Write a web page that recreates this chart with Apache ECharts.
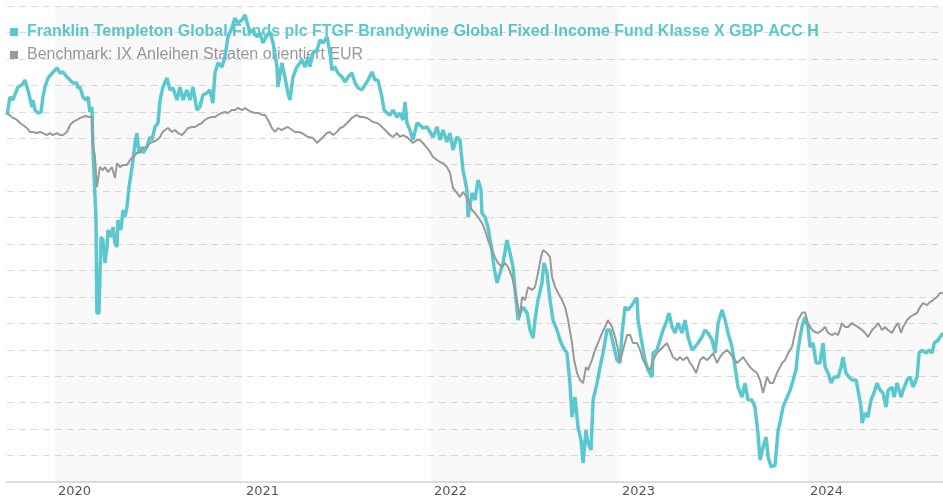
<!DOCTYPE html>
<html>
<head>
<meta charset="utf-8">
<script src="https://cdn.jsdelivr.net/npm/echarts@6/dist/echarts.min.js"></script>
<style>
  html, body { margin: 0; padding: 0; background: #fff; }
  #chart { width: 943px; height: 500px; }
</style>
</head>
<body>
<div id="chart"></div>
<script>
const fundName = 'Franklin Templeton Global Funds plc FTGF Brandywine Global Fixed Income Fund Klasse X GBP ACC H';
const benchName = 'Benchmark: IX Anleihen Staaten orientiert EUR';
const yearTicks = [2020, 2021, 2022, 2023, 2024];
const shadedYears = [[2020, 2021], [2022, 2023], [2024, 2024.723]];

// [decimal year, performance]
const fund = [
  [2019.745,1.76],[2019.761,3.12],[2019.776,2.89],[2019.803,3.87],[2019.824,4.03],[2019.840,4.40],[2019.856,3.65],
  [2019.878,2.36],[2019.883,2.89],[2019.894,2.13],[2019.910,1.91],[2019.926,1.98],[2019.936,3.12],[2019.947,3.87],
  [2019.963,4.55],[2019.973,4.40],[2020.000,5.16],[2020.011,5.31],[2020.027,4.93],[2020.043,5.01],[2020.064,4.63],
  [2020.080,4.40],[2020.096,4.18],[2020.117,4.18],[2020.122,3.80],[2020.133,3.87],[2020.149,3.12],[2020.165,2.89],
  [2020.176,3.12],[2020.186,1.98],[2020.197,2.36],[2020.202,-0.89],[2020.218,-5.96],[2020.223,-13.22],[2020.234,-13.22],
  [2020.245,-7.47],[2020.255,-7.70],[2020.266,-9.44],[2020.277,-8.23],[2020.282,-6.94],[2020.298,-7.47],[2020.309,-6.72],
  [2020.319,-7.93],[2020.330,-8.23],[2020.335,-6.19],[2020.351,-6.94],[2020.362,-5.43],[2020.372,-5.96],[2020.383,-5.20],
  [2020.394,-3.69],[2020.410,-2.18],[2020.426,-0.36],[2020.436,0.39],[2020.447,-1.12],[2020.463,-0.67],[2020.468,-1.12],
  [2020.489,-0.67],[2020.505,0.09],[2020.516,-0.14],[2020.532,0.85],[2020.548,1.15],[2020.559,2.89],[2020.574,3.87],
  [2020.596,4.55],[2020.612,3.65],[2020.628,3.80],[2020.649,2.89],[2020.665,3.87],[2020.681,2.89],[2020.702,3.65],
  [2020.718,2.89],[2020.734,3.87],[2020.755,2.13],[2020.771,2.36],[2020.787,3.27],[2020.809,3.42],[2020.824,3.65],
  [2020.840,2.66],[2020.851,4.93],[2020.867,5.69],[2020.888,5.39],[2020.904,6.14],[2020.920,7.66],[2020.941,8.34],
  [2020.957,9.09],[2020.973,8.71],[2020.995,8.94],[2021.011,9.32],[2021.021,9.47],[2021.037,7.96],[2021.053,8.19],
  [2021.074,7.66],[2021.090,7.96],[2021.106,7.20],[2021.128,7.81],[2021.144,8.03],[2021.160,7.20],[2021.181,5.39],
  [2021.186,3.87],[2021.207,5.69],[2021.223,4.63],[2021.239,3.42],[2021.250,2.89],[2021.266,4.63],[2021.287,5.39],
  [2021.314,5.92],[2021.330,5.39],[2021.346,6.14],[2021.356,5.39],[2021.372,6.45],[2021.394,6.67],[2021.410,7.43],
  [2021.426,7.20],[2021.447,7.66],[2021.463,6.45],[2021.473,5.16],[2021.489,5.39],[2021.505,4.93],[2021.527,4.63],
  [2021.543,4.25],[2021.559,4.63],[2021.580,4.93],[2021.596,4.18],[2021.612,3.80],[2021.633,3.65],[2021.649,4.03],
  [2021.665,4.40],[2021.686,5.01],[2021.702,4.40],[2021.718,4.40],[2021.739,3.12],[2021.750,2.13],[2021.766,1.91],
  [2021.782,1.76],[2021.798,2.13],[2021.819,1.60],[2021.835,1.91],[2021.851,1.38],[2021.862,2.74],[2021.872,1.15],
  [2021.888,0.62],[2021.904,-0.14],[2021.926,1.15],[2021.941,1.00],[2021.957,0.77],[2021.979,0.85],[2021.995,0.47],
  [2022.011,0.09],[2022.032,0.85],[2022.048,-0.14],[2022.064,0.62],[2022.085,-0.29],[2022.101,0.39],[2022.117,-0.89],
  [2022.138,0.09],[2022.154,-0.14],[2022.170,-2.41],[2022.181,-3.16],[2022.191,-3.92],[2022.197,-5.96],[2022.218,-4.14],
  [2022.234,-4.67],[2022.250,-3.16],[2022.266,-3.92],[2022.271,-5.66],[2022.287,-5.96],[2022.303,-6.72],[2022.324,-8.46],
  [2022.335,-9.74],[2022.351,-10.95],[2022.367,-10.20],[2022.383,-9.44],[2022.404,-7.70],[2022.420,-8.68],[2022.436,-9.74],
  [2022.447,-11.48],[2022.463,-13.75],[2022.473,-13.22],[2022.489,-12.77],[2022.511,-13.22],[2022.527,-14.51],[2022.543,-15.11],
  [2022.553,-13.75],[2022.569,-12.24],[2022.590,-10.95],[2022.601,-9.44],[2022.617,-10.20],[2022.633,-12.24],[2022.649,-13.75],
  [2022.670,-14.51],[2022.686,-15.26],[2022.702,-15.79],[2022.723,-16.25],[2022.739,-18.52],[2022.750,-21.09],[2022.766,-19.58],
  [2022.782,-21.84],[2022.798,-22.83],[2022.809,-24.57],[2022.824,-22.07],[2022.835,-23.05],[2022.851,-23.58],[2022.862,-19.80],
  [2022.883,-18.52],[2022.899,-17.31],[2022.915,-16.25],[2022.936,-14.51],[2022.952,-14.51],[2022.968,-15.49],[2022.989,-16.78],
  [2023.005,-17.00],[2023.016,-14.73],[2023.032,-12.77],[2023.048,-12.99],[2023.069,-12.62],[2023.085,-12.24],[2023.096,-12.09],
  [2023.101,-13.75],[2023.122,-15.49],[2023.138,-16.78],[2023.154,-17.53],[2023.176,-18.06],[2023.181,-16.25],[2023.202,-16.02],
  [2023.218,-15.26],[2023.234,-14.51],[2023.255,-13.75],[2023.266,-13.22],[2023.282,-14.28],[2023.298,-14.73],[2023.314,-13.98],
  [2023.335,-14.73],[2023.351,-13.75],[2023.367,-15.04],[2023.388,-16.02],[2023.404,-15.79],[2023.420,-15.49],[2023.441,-15.04],
  [2023.457,-14.51],[2023.473,-14.73],[2023.495,-15.26],[2023.511,-16.25],[2023.527,-13.98],[2023.548,-12.99],[2023.564,-13.75],
  [2023.580,-14.73],[2023.601,-15.79],[2023.617,-17.31],[2023.633,-18.82],[2023.654,-19.58],[2023.670,-18.52],[2023.686,-19.80],
  [2023.707,-19.80],[2023.723,-20.33],[2023.739,-22.30],[2023.750,-24.34],[2023.766,-23.36],[2023.782,-22.60],[2023.793,-24.11],
  [2023.809,-24.87],[2023.819,-24.87],[2023.830,-24.72],[2023.846,-22.07],[2023.856,-21.54],[2023.872,-20.33],[2023.894,-19.58],
  [2023.910,-19.05],[2023.926,-18.29],[2023.941,-17.53],[2023.952,-16.02],[2023.963,-15.04],[2023.973,-14.28],[2023.989,-13.52],
  [2024.005,-14.28],[2024.016,-15.79],[2024.032,-15.49],[2024.048,-17.00],[2024.069,-17.00],[2024.085,-15.49],[2024.096,-17.31],
  [2024.112,-17.76],[2024.128,-18.52],[2024.144,-18.06],[2024.165,-18.06],[2024.181,-17.31],[2024.191,-16.55],[2024.207,-17.76],
  [2024.223,-18.06],[2024.239,-18.29],[2024.261,-18.29],[2024.271,-19.05],[2024.287,-20.33],[2024.293,-21.54],[2024.309,-20.79],
  [2024.324,-21.09],[2024.340,-19.80],[2024.356,-19.27],[2024.372,-18.52],[2024.388,-19.05],[2024.404,-19.27],[2024.420,-20.33],
  [2024.431,-19.05],[2024.452,-18.82],[2024.463,-19.58],[2024.479,-18.52],[2024.500,-19.58],[2024.511,-19.05],[2024.532,-18.29],
  [2024.548,-18.06],[2024.564,-18.82],[2024.585,-18.06],[2024.596,-16.25],[2024.612,-16.02],[2024.633,-16.25],[2024.649,-16.02],
  [2024.665,-16.25],[2024.676,-15.49],[2024.697,-15.26],[2024.707,-15.04],[2024.723,-14.73]
];

const bench = [
  [2019.745,1.91],[2019.771,1.60],[2019.798,1.38],[2019.814,1.15],[2019.830,1.00],[2019.851,0.77],[2019.867,0.47],
  [2019.883,0.47],[2019.904,0.39],[2019.920,0.47],[2019.936,0.39],[2019.957,0.24],[2019.973,0.39],[2019.989,0.24],
  [2020.011,0.39],[2020.027,0.24],[2020.043,0.24],[2020.064,0.47],[2020.080,1.00],[2020.096,1.23],[2020.117,1.38],
  [2020.133,1.53],[2020.149,1.60],[2020.165,1.68],[2020.181,1.60],[2020.197,1.60],[2020.202,-0.36],[2020.213,-1.42],
  [2020.223,-3.69],[2020.229,-3.16],[2020.239,-2.18],[2020.255,-2.41],[2020.266,-2.18],[2020.282,-2.56],[2020.303,-2.18],
  [2020.319,-3.01],[2020.330,-1.88],[2020.346,-2.18],[2020.362,-2.03],[2020.383,-2.03],[2020.399,-1.65],[2020.415,-1.42],
  [2020.436,-1.12],[2020.452,-1.04],[2020.468,-0.74],[2020.489,-0.67],[2020.505,-0.36],[2020.521,-0.29],[2020.543,-0.14],
  [2020.559,0.09],[2020.569,0.39],[2020.585,0.62],[2020.601,0.77],[2020.622,0.47],[2020.638,0.62],[2020.654,0.39],
  [2020.676,0.24],[2020.691,0.47],[2020.707,0.77],[2020.729,0.85],[2020.745,0.85],[2020.761,1.00],[2020.782,1.15],
  [2020.798,1.38],[2020.814,1.53],[2020.835,1.60],[2020.851,1.60],[2020.867,1.76],[2020.888,1.91],[2020.904,1.98],
  [2020.920,1.91],[2020.941,2.13],[2020.957,2.13],[2020.973,2.29],[2020.995,2.13],[2021.011,2.29],[2021.027,2.13],
  [2021.048,1.98],[2021.064,1.91],[2021.080,1.91],[2021.101,1.76],[2021.117,1.76],[2021.133,1.38],[2021.154,0.77],
  [2021.170,0.47],[2021.186,0.77],[2021.207,0.62],[2021.223,0.77],[2021.239,0.85],[2021.261,0.62],[2021.277,0.47],
  [2021.293,0.47],[2021.314,0.39],[2021.330,0.24],[2021.346,0.09],[2021.372,0.02],[2021.394,-0.36],[2021.410,-0.14],
  [2021.426,0.09],[2021.447,0.39],[2021.463,0.47],[2021.479,0.24],[2021.500,0.47],[2021.516,0.77],[2021.532,0.85],
  [2021.553,1.15],[2021.569,1.38],[2021.585,1.60],[2021.606,1.76],[2021.622,1.60],[2021.638,1.60],[2021.660,1.53],
  [2021.676,1.38],[2021.691,1.23],[2021.713,1.15],[2021.729,1.00],[2021.745,0.77],[2021.766,0.47],[2021.782,0.24],
  [2021.798,0.09],[2021.819,0.39],[2021.835,0.09],[2021.851,0.24],[2021.872,0.09],[2021.888,-0.14],[2021.904,-0.36],
  [2021.926,-0.14],[2021.941,-0.14],[2021.957,-0.36],[2021.979,-0.74],[2021.995,-1.04],[2022.011,-1.42],[2022.032,-1.65],
  [2022.048,-1.80],[2022.064,-1.88],[2022.085,-2.18],[2022.101,-2.63],[2022.117,-3.77],[2022.138,-4.14],[2022.154,-4.45],
  [2022.170,-4.07],[2022.191,-4.45],[2022.218,-5.43],[2022.234,-5.66],[2022.250,-5.96],[2022.271,-6.41],[2022.287,-6.94],
  [2022.303,-7.70],[2022.324,-8.46],[2022.340,-8.99],[2022.356,-9.44],[2022.378,-9.74],[2022.394,-9.44],[2022.410,-9.74],
  [2022.431,-10.50],[2022.447,-11.48],[2022.463,-12.77],[2022.473,-13.52],[2022.484,-12.01],[2022.500,-12.24],[2022.516,-11.26],
  [2022.537,-11.48],[2022.553,-11.26],[2022.569,-10.20],[2022.585,-8.99],[2022.596,-8.46],[2022.617,-8.68],[2022.633,-8.99],
  [2022.644,-10.50],[2022.660,-11.26],[2022.676,-11.71],[2022.697,-12.24],[2022.713,-12.77],[2022.729,-13.75],[2022.750,-15.49],
  [2022.761,-16.78],[2022.777,-17.76],[2022.793,-18.29],[2022.809,-18.52],[2022.824,-17.31],[2022.835,-17.53],[2022.856,-16.78],
  [2022.872,-16.02],[2022.888,-15.49],[2022.910,-14.73],[2022.926,-14.28],[2022.941,-13.75],[2022.963,-14.28],[2022.979,-15.04],
  [2022.995,-16.02],[2023.005,-16.93],[2023.021,-16.02],[2023.043,-14.89],[2023.059,-14.89],[2023.074,-15.49],[2023.096,-15.49],
  [2023.112,-16.02],[2023.128,-16.78],[2023.149,-17.31],[2023.165,-17.53],[2023.181,-16.78],[2023.202,-16.25],[2023.218,-16.02],
  [2023.234,-15.79],[2023.255,-15.49],[2023.271,-16.02],[2023.287,-16.55],[2023.309,-16.78],[2023.324,-16.55],[2023.340,-16.78],
  [2023.362,-16.55],[2023.378,-17.00],[2023.394,-17.31],[2023.410,-17.76],[2023.431,-16.78],[2023.447,-16.55],[2023.468,-16.78],
  [2023.484,-16.55],[2023.500,-16.25],[2023.521,-17.00],[2023.537,-16.55],[2023.553,-16.25],[2023.574,-16.02],[2023.590,-16.25],
  [2023.606,-16.55],[2023.628,-17.00],[2023.644,-16.78],[2023.660,-16.55],[2023.681,-17.00],[2023.697,-17.31],[2023.713,-17.53],
  [2023.734,-17.76],[2023.750,-18.29],[2023.766,-19.27],[2023.787,-18.06],[2023.803,-18.52],[2023.819,-18.52],[2023.840,-17.76],
  [2023.856,-17.31],[2023.867,-17.00],[2023.883,-16.78],[2023.899,-16.25],[2023.920,-15.79],[2023.936,-14.73],[2023.952,-13.75],
  [2023.973,-13.22],[2023.989,-13.15],[2024.005,-13.98],[2024.027,-14.51],[2024.043,-14.66],[2024.059,-14.73],[2024.080,-14.51],
  [2024.096,-14.28],[2024.112,-14.73],[2024.133,-14.89],[2024.149,-14.73],[2024.165,-14.89],[2024.186,-13.98],[2024.202,-14.28],
  [2024.218,-14.28],[2024.239,-13.98],[2024.255,-14.13],[2024.271,-14.28],[2024.293,-14.51],[2024.309,-14.73],[2024.324,-15.04],
  [2024.346,-14.51],[2024.362,-14.28],[2024.378,-13.98],[2024.399,-14.51],[2024.415,-14.28],[2024.431,-14.51],[2024.452,-14.73],
  [2024.468,-14.28],[2024.484,-13.98],[2024.500,-14.73],[2024.511,-14.28],[2024.532,-13.75],[2024.548,-13.52],[2024.564,-13.37],
  [2024.585,-13.22],[2024.601,-12.77],[2024.617,-12.47],[2024.638,-12.62],[2024.654,-12.39],[2024.670,-12.24],[2024.691,-12.01],
  [2024.707,-11.71],[2024.723,-11.71]
];

const fundColor = '#5bc8cf';
const benchColor = '#999999';

let chart = echarts.init(document.getElementById('chart'));
chart.setOption({
  animation: false,
  grid: { left: 7, right: 0, top: 6, bottom: 18 },
  legend: {
    orient: 'vertical',
    left: 5,
    top: 19,
    z: 1,
    icon: 'rect',
    itemWidth: 8,
    itemHeight: 8,
    itemGap: 7,
    selectedMode: false,
    textStyle: { fontFamily: 'Liberation Sans', fontSize: 16, padding: [0, 0, 0, 4] },
    data: [
      { name: fundName, textStyle: { color: fundColor, fontWeight: 'bold' } },
      { name: benchName, textStyle: { color: benchColor } }
    ]
  },
  xAxis: {
    type: 'value',
    min: fund[0][0],
    max: fund[fund.length - 1][0],
    splitLine: { show: false },
    axisTick: { show: false },
    axisLine: { onZero: false, lineStyle: { color: '#dddddd', width: 2 } },
    axisLabel: {
      customValues: yearTicks,
      formatter: v => String(v),
      align: 'left',
      padding: [0, 0, 0, 3],
      margin: 3,
      color: '#555555',
      fontFamily: 'DejaVu Sans',
      fontSize: 13
    }
  },
  yAxis: {
    type: 'value',
    min: -26,
    max: 10,
    interval: 2,
    axisLine: { show: false },
    axisTick: { show: false },
    axisLabel: { show: false },
    splitLine: { lineStyle: { color: '#dcdcdc', type: [7, 5], width: 1 } }
  },
  series: [
    {
      name: 'bands',
      type: 'line',
      data: [],
      z: 1,
      silent: true,
      markArea: {
        silent: true,
        itemStyle: { color: 'rgba(0,0,0,0.025)' },
        data: shadedYears.map(([a, b]) => [{ xAxis: a }, { xAxis: b }])
      }
    },
    {
      name: fundName,
      type: 'line',
      data: fund,
      showSymbol: false,
      color: fundColor,
      lineStyle: { color: fundColor, width: 3.5 }
    },
    {
      name: benchName,
      type: 'line',
      data: bench,
      showSymbol: false,
      color: benchColor,
      lineStyle: { color: benchColor, width: 2 }
    }
  ]
});
</script>
</body>
</html>
